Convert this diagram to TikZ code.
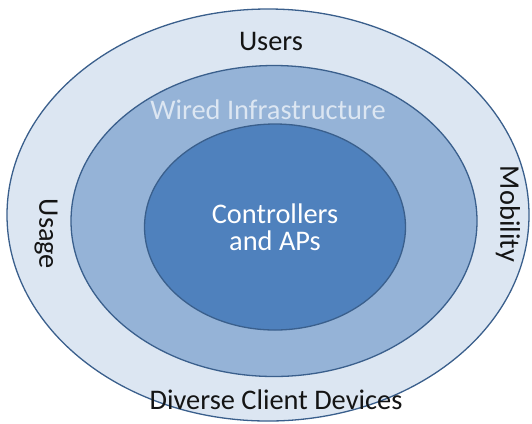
\documentclass[tikz,border=0pt]{standalone}
\usepackage{fontspec}
\setmainfont{Carlito}
\usetikzlibrary{shapes.geometric}
\definecolor{ringA}{HTML}{DCE6F2}
\definecolor{ringB}{HTML}{95B3D7}
\definecolor{ringC}{HTML}{4F81BD}
\definecolor{edgeblue}{HTML}{3A5F8C}
\definecolor{txtdark}{HTML}{141414}
\tikzset{
  ring/.style={ellipse, draw=edgeblue, line width=1.3bp, inner sep=0pt},
  lbl/.style={font=\fontsize{28.5}{30}\selectfont, text=txtdark, inner sep=0pt},
  lbllight/.style={font=\fontsize{28.5}{30}\selectfont, text=ringA, inner sep=0pt},
  lblwhite/.style={font=\fontsize{28.5}{27}\selectfont, text=white, inner sep=0pt, align=center},
}
\begin{document}
\begin{tikzpicture}[x=1bp,y=-1bp]
\useasboundingbox[fill=white] (0,0) rectangle (532,423);
\node[ring, fill=ringA, minimum width=522bp, minimum height=412bp] (outer) at (268,215) {};
\node[ring, fill=ringB, minimum width=406bp, minimum height=311bp] (middle) at (274,221) {};
\node[ring, fill=ringC, minimum width=261bp, minimum height=206bp] (inner) at (275,227) {};
\node[lbl] (users) at (271,41) {Users};
\node[lbllight] (wired) at (268,110) {Wired Infrastructure};
\node[lblwhite] (ctrl) at (275,227) {Controllers\\and APs};
\node[lbl, rotate=-90] (usage) at (46,234) {Usage};
\node[lbl, rotate=-90] (mobility) at (508,214) {Mobility};
\node[lbl] (devices) at (276,400) {Diverse Client Devices};
\end{tikzpicture}
\end{document}
